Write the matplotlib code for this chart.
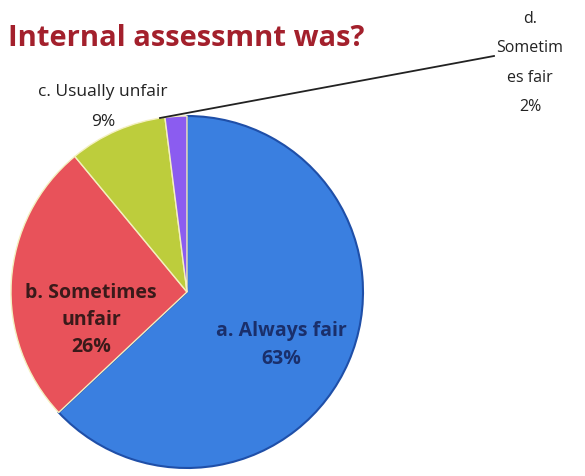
import matplotlib
matplotlib.use("Agg")
from matplotlib import pyplot as plt

categories = ['a. Always fair', 'b. Sometimes\nunfair', 'c. Usually unfair', 'd.\nSometim\nes fair']
shares = [63, 26, 9, 2]
colors = ['#3a7fe0', '#e8525a', '#bdcd3c', '#8b5cf0']

plt.rcParams['font.family'] = ['Open Sans', 'DejaVu Sans']

W, H = 585, 477
fig = plt.figure(figsize=(W / 100, H / 100), dpi=100)

# pie centre and radius in pixels
cx, cy, r = 187, 293, 176
ax = fig.add_axes([(cx - r) / W, (H - cy - r) / H, 2 * r / W, 2 * r / H])
wedges, _ = ax.pie(shares, colors=colors, startangle=90, counterclock=False,
                   wedgeprops=dict(linewidth=1.5, edgecolor='#1f4fa8'))
for w in wedges[1:]:
    w.set_edgecolor('#f4f0c0')
    w.set_linewidth(1.0)
ax.set_xlim(-1, 1)
ax.set_ylim(-1, 1)
ax.set_aspect('equal')
ax.axis('off')

fig.text(8 / W, 1 - 38 / H, 'Internal assessmnt was?', color='#a3202c',
         fontsize=21, fontweight='bold', va='center', ha='left')

labels = [f'{c}\n{s}%' for c, s in zip(categories, shares)]
fig.text(281 / W, 1 - 345 / H, labels[0], ha='center', va='center', fontsize=14,
         color='#1a2f6b', fontweight='bold', linespacing=1.55)
fig.text(91 / W, 1 - 320 / H, labels[1], ha='center', va='center', fontsize=14,
         color='#3a1a1a', fontweight='bold', linespacing=1.5)
fig.text(103 / W, 1 - 107 / H, labels[2], ha='center', va='center', fontsize=12.5,
         color='#222222', linespacing=2.2)
fig.text(530 / W, 1 - 63 / H, labels[3], ha='center', va='center', fontsize=11.5,
         color='#222222', linespacing=2.1)

# leader line for the small slice
fig.add_artist(plt.Line2D([160 / W, 494 / W], [1 - 119 / H, 1 - 57 / H],
                          color='#222222', linewidth=1.3))

fig.savefig('out.png', dpi=100, facecolor='white')
